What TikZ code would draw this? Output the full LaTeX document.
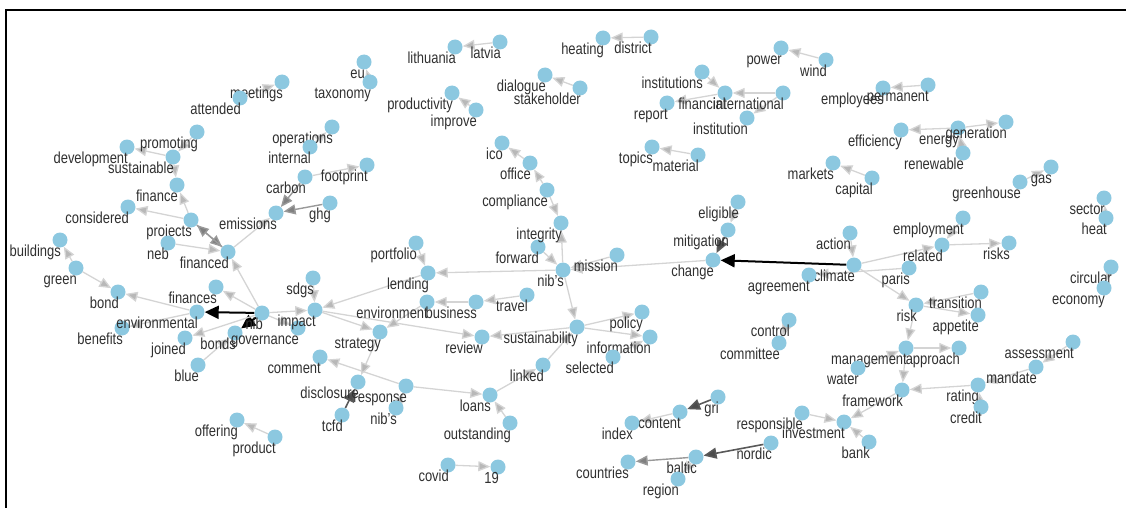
\documentclass[tikz,border=0pt]{standalone}
\usepackage{fontspec}
\setmainfont{Liberation Sans}
\usetikzlibrary{arrows.meta,backgrounds}
\definecolor{nodeblue}{RGB}{140,200,224}
\definecolor{wordgray}{RGB}{48,48,48}
\tikzset{
  vert/.style={circle,fill=nodeblue,draw=none,minimum size=15pt,inner sep=0pt},
  lbl/.style={anchor=base east,inner sep=0pt,xshift=1pt,yshift=-9pt,
    text=wordgray,font=\fontsize{16}{16}\selectfont},
  word/.style={vert,label={[lbl]below:\scalebox{.81}[1]{#1}}},
  edge/.style={draw=black!17,line width=1.3pt,
    -{Triangle[length=12pt,width=10pt,fill=black!28]}},
  edgemid/.style={draw=black!40,line width=1.4pt,
    -{Triangle[length=12pt,width=10pt,fill=black!50]}},
  edgedark/.style={draw=black!65,line width=1.6pt,
    -{Triangle[length=13pt,width=11pt,fill=black!70]}},
  edgebold/.style={draw=black,line width=2pt,
    -{Triangle[length=14pt,width=13pt]}}
}
\begin{document}
\begin{tikzpicture}[x=1pt,y=-1pt]
\useasboundingbox (0,0) rectangle (1126,508);
\draw[line width=2.6pt] (6,508)--(6,10)--(1126,10);
% left cluster
\node[word=eu] (eu) at (364,62) {};
\node[word=taxonomy] (taxonomy) at (370,82) {};
\node[word=meetings] (meetings) at (282,82) {};
\node[word=attended] (attended) at (240,98) {};
\node[word=promoting] (promoting) at (197,132) {};
\node[word=development] (development) at (127,147) {};
\node[word=sustainable] (sustainable) at (173,157) {};
\node[word=finance] (finance) at (177,185) {};
\node[word=considered] (considered) at (128,207) {};
\node[word=projects] (projects) at (191,220) {};
\node[word=emissions] (emissions) at (276,213) {};
\node[word=carbon] (carbon) at (305,177) {};
\node[word=ghg] (ghg) at (330,203) {};
\node[word=operations] (operations) at (332,127) {};
\node[word=internal] (internal) at (310,147) {};
\node[word=footprint] (footprint) at (367,165) {};
\node[word=buildings] (buildings) at (60,240) {};
\node[word=green] (green) at (76,268) {};
\node[word=bond] (bond) at (118,292) {};
\node[word=benefits] (benefits) at (122,328) {};
\node[word=environmental] (environmental) at (197,312) {};
\node[word=finances] (finances) at (216,287) {};
\node[word=nib] (nib) at (262,313) {};
\node[word=bonds] (bonds) at (235,333) {};
\node[word=joined] (joined) at (185,338) {};
\node[word=blue] (blue) at (198,365) {};
\node[word=governance] (governance) at (298,328) {};
\node[word=impact] (impact) at (315,310) {};
\node[word=sdgs] (sdgs) at (313,278) {};
\node[word=financed] (financed) at (228,252) {};
\node[word=neb] (neb) at (168,243) {};
\node[word=offering] (offering) at (237,420) {};
\node[word=product] (product) at (275,437) {};
% middle cluster
\node[word=strategy] (strategy) at (380,332) {};
\node[word=environment] (environment) at (427,302) {};
\node[word=business] (business) at (476,302) {};
\node[word=travel] (travel) at (527,295) {};
\node[word=lending] (lending) at (428,273) {};
\node[word=portfolio] (portfolio) at (416,243) {};
\node[word=nib's] (nibs) at (563,270) {};
\node[word=mission] (mission) at (617,255) {};
\node[word=forward] (forward) at (538,247) {};
\node[word=integrity] (integrity) at (561,223) {};
\node[word=compliance] (compliance) at (547,190) {};
\node[word=office] (office) at (530,163) {};
\node[word=ico] (ico) at (502,143) {};
\node[word=lithuania] (lithuania) at (455,47) {};
\node[word=latvia] (latvia) at (500,42) {};
\node[word=heating] (heating) at (603,38) {};
\node[word=district] (district) at (651,37) {};
\node[word=dialogue] (dialogue) at (545,75) {};
\node[word=stakeholder] (stakeholder) at (580,88) {};
\node[word=productivity] (productivity) at (452,93) {};
\node[word=improve] (improve) at (476,110) {};
\node[word=sustainability] (sustainability) at (577,327) {};
\node[word=policy] (policy) at (642,312) {};
\node[word=information] (information) at (650,337) {};
\node[word=selected] (selected) at (613,357) {};
\node[word=linked] (linked) at (543,365) {};
\node[word=review] (review) at (482,337) {};
\node[word=comment] (comment) at (320,357) {};
\node[word=disclosure] (disclosure) at (358,382) {};
\node[word=response] (response) at (406,386) {};
\node[word=tcfd] (tcfd) at (342,415) {};
\node[word=nib's] (nibsb) at (396,408) {};
\node[word=loans] (loans) at (490,395) {};
\node[word=outstanding] (outstanding) at (510,423) {};
\node[word=covid] (covid) at (448,465) {};
\node[word=19] (nineteen) at (498,467) {};
% right cluster
\node[word=institutions] (institutions) at (702,72) {};
\node[word=report] (report) at (667,103) {};
\node[word=financial] (financial) at (725,93) {};
\node[word=international] (international) at (783,93) {};
\node[word=institution] (institution) at (747,118) {};
\node[word=topics] (topics) at (652,147) {};
\node[word=material] (material) at (698,155) {};
\node[word=power] (power) at (781,48) {};
\node[word=wind] (wind) at (826,60) {};
\node[word=employees] (employees) at (883,88) {};
\node[word=permanent] (permanent) at (928,85) {};
\node[word=efficiency] (efficiency) at (901,130) {};
\node[word=energy] (energy) at (958,128) {};
\node[word=generation] (generation) at (1006,122) {};
\node[word=renewable] (renewable) at (963,153) {};
\node[word=markets] (markets) at (833,163) {};
\node[word=capital] (capital) at (872,178) {};
\node[word=greenhouse] (greenhouse) at (1020,182) {};
\node[word=gas] (gas) at (1051,167) {};
\node[word=sector] (sector) at (1104,198) {};
\node[word=heat] (heat) at (1106,218) {};
\node[word=eligible] (eligible) at (738,202) {};
\node[word=mitigation] (mitigation) at (728,230) {};
\node[word=change] (change) at (713,260) {};
\node[word=employment] (employment) at (963,218) {};
\node[word=related] (related) at (942,245) {};
\node[word=risks] (risks) at (1009,243) {};
\node[word=action] (action) at (850,233) {};
\node[word=climate] (climate) at (854,265) {};
\node[word=agreement] (agreement) at (809,275) {};
\node[word=paris] (paris) at (909,268) {};
\node[word=circular] (circular) at (1111,267) {};
\node[word=economy] (economy) at (1104,288) {};
\node[word=risk] (risk) at (916,305) {};
\node[word=transition] (transition) at (981,292) {};
\node[word=appetite] (appetite) at (978,315) {};
\node[word=control] (control) at (789,320) {};
\node[word=committee] (committee) at (779,343) {};
\node[word=management] (management) at (906,348) {};
\node[word=approach] (approach) at (959,348) {};
\node[word=water] (water) at (858,368) {};
\node[word=framework] (framework) at (902,390) {};
\node[word=rating] (rating) at (978,385) {};
\node[word=credit] (credit) at (981,407) {};
\node[word=assessment] (assessment) at (1073,342) {};
\node[word=mandate] (mandate) at (1036,367) {};
\node[word=responsible] (responsible) at (802,413) {};
\node[word=investment] (investment) at (844,422) {};
\node[word=bank] (bank) at (869,442) {};
\node[word=gri] (gri) at (718,397) {};
\node[word=content] (content) at (680,412) {};
\node[word=index] (index) at (632,423) {};
\node[word=nordic] (nordic) at (771,443) {};
\node[word=baltic] (baltic) at (696,457) {};
\node[word=region] (region) at (678,479) {};
\node[word=countries] (countries) at (628,462) {};
% connectors
\begin{scope}[on background layer]
\draw[edge] (taxonomy) -- (eu);
\draw[edge] (attended) -- (meetings);
\draw[edge] (promoting) -- (sustainable);
\draw[edge] (sustainable) -- (development);
\draw[edge] (sustainable) -- (finance);
\draw[edge] (projects) -- (finance);
\draw[edge] (projects) -- (considered);
\draw[edgemid] (projects) -- (financed);
\draw[edgemid] (financed) -- (projects);
\draw[edge] (neb) -- (financed);
\draw[edge] (financed) -- (emissions);
\draw[edge] (nib) -- (financed);
\draw[edgemid] (carbon) -- (emissions);
\draw[edgemid] (ghg) -- (emissions);
\draw[edge] (internal) -- (operations);
\draw[edge] (carbon) -- (footprint);
\draw[edge] (green) -- (buildings);
\draw[edge] (green) -- (bond);
\draw[edge] (environmental) -- (bond);
\draw[edge] (environmental) -- (benefits);
\draw[edgebold] (nib) -- (environmental);
\draw[edgebold] (nib) -- (bonds);
\draw[edge] (nib) -- (finances);
\draw[edge] (blue) -- (bonds);
\draw[edge] (nib) -- (joined);
\draw[edge] (nib) -- (governance);
\draw[edge] (nib) -- (impact);
\draw[edge] (sdgs) -- (impact);
\draw[edge] (lending) -- (impact);
\draw[edge] (impact) -- (strategy);
\draw[edge] (impact) -- (review);
\draw[edge] (product) -- (offering);
\draw[edge] (portfolio) -- (lending);
\draw[edge] (nibs) -- (lending);
\draw[edge] (change) -- (nibs);
\draw[edge] (mission) -- (nibs);
\draw[edge] (forward) -- (nibs);
\draw[edge] (nibs) -- (integrity);
\draw[edge] (compliance) -- (integrity);
\draw[edge] (compliance) -- (office);
\draw[edge] (office) -- (ico);
\draw[edge] (latvia) -- (lithuania);
\draw[edge] (district) -- (heating);
\draw[edge] (stakeholder) -- (dialogue);
\draw[edge] (improve) -- (productivity);
\draw[edge] (nibs) -- (sustainability);
\draw[edge] (sustainability) -- (policy);
\draw[edge] (sustainability) -- (information);
\draw[edge] (selected) -- (information);
\draw[edge] (linked) -- (sustainability);
\draw[edge] (sustainability) -- (review);
\draw[edge] (travel) -- (business);
\draw[edge] (business) -- (environment);
\draw[edge] (environment) -- (strategy);
\draw[edge] (response) -- (comment);
\draw[edge] (strategy) -- (disclosure);
\draw[edgedark] (tcfd) -- (disclosure);
\draw[edge] (nibsb) -- (response);
\draw[edge] (response) -- (loans);
\draw[edge] (loans) -- (linked);
\draw[edge] (outstanding) -- (loans);
\draw[edge] (covid) -- (nineteen);
\draw[edge] (institutions) -- (financial);
\draw[edge] (financial) -- (report);
\draw[edge] (international) -- (financial);
\draw[edge] (international) -- (institution);
\draw[edge] (material) -- (topics);
\draw[edge] (wind) -- (power);
\draw[edge] (permanent) -- (employees);
\draw[edge] (energy) -- (efficiency);
\draw[edge] (energy) -- (generation);
\draw[edge] (renewable) -- (energy);
\draw[edge] (capital) -- (markets);
\draw[edge] (greenhouse) -- (gas);
\draw[edge] (heat) -- (sector);
\draw[edge] (circular) -- (economy);
\draw[edge] (eligible) -- (mitigation);
\draw[edgedark] (mitigation) -- (change);
\draw[edgebold] (climate) -- (change);
\draw[edge] (action) -- (climate);
\draw[edge] (climate) -- (related);
\draw[edge] (employment) -- (related);
\draw[edge] (related) -- (risks);
\draw[edge] (paris) -- (agreement);
\draw[edge] (climate) -- (risk);
\draw[edge] (transition) -- (risk);
\draw[edge] (risk) -- (appetite);
\draw[edge] (control) -- (committee);
\draw[edge] (risk) -- (management);
\draw[edge] (management) -- (approach);
\draw[edge] (water) -- (management);
\draw[edge] (management) -- (framework);
\draw[edge] (rating) -- (framework);
\draw[edge] (mandate) -- (rating);
\draw[edge] (assessment) -- (mandate);
\draw[edge] (credit) -- (rating);
\draw[edge] (responsible) -- (investment);
\draw[edge] (bank) -- (investment);
\draw[edge] (framework) -- (investment);
\draw[edgedark] (gri) -- (content);
\draw[edge] (content) -- (index);
\draw[edgedark] (nordic) -- (baltic);
\draw[edgemid] (baltic) -- (countries);
\draw[edge] (baltic) -- (region);
\end{scope}
\end{tikzpicture}
\end{document}
